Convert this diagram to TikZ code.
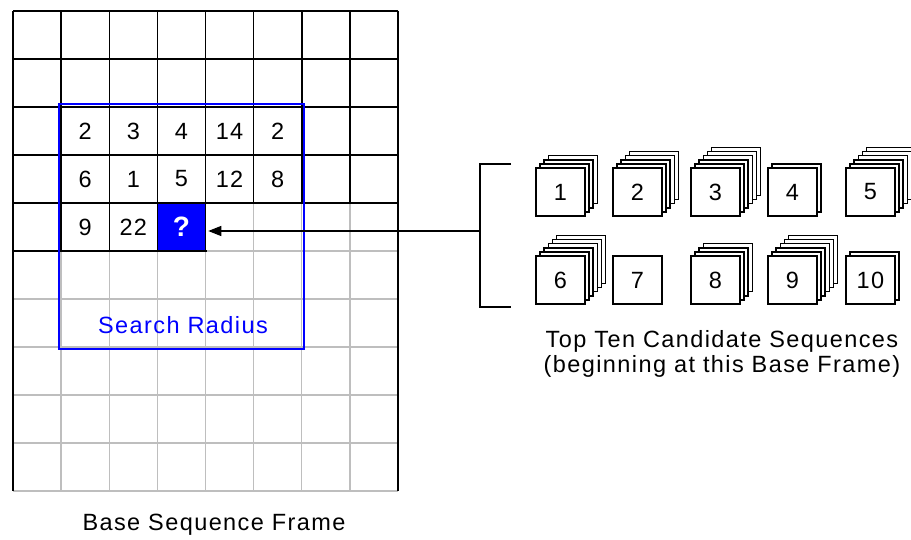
\documentclass[tikz,border=0pt]{standalone}
\usepackage{fontspec}
\setmainfont{Liberation Sans}[LetterSpace=6]
\usetikzlibrary{arrows.meta}
\definecolor{gridgray}{RGB}{190,190,190}
\definecolor{pureblue}{RGB}{0,0,255}
\def\sd{4.1}
\newcommand\candstack[5]{%
  \ifnum#4>0
    \foreach \k in {#4,...,1}{
      \draw[stackline, fill=white] ({#2+\k*\sd},{#3-\k*\sd}) rectangle ++(49,48);
    }
  \fi
  \node[candbox] (#1) at ({#2+24.5},{#3+24}) {#5};
}
\begin{document}
\begin{tikzpicture}[x=1pt,y=-1pt,
  gridline/.style={draw=gridgray, line width=1.4pt},
  blackline/.style={draw=black, line width=1.5pt},
  num/.style={font=\fontsize{23.5}{27}\selectfont, inner sep=0pt},
  qcell/.style={draw=black, line width=1.5pt, fill=pureblue, text=white,
    minimum width=48.125pt, minimum height=48pt, inner sep=0pt,
    font=\fontsize{28}{30}\selectfont\bfseries},
  radiusbox/.style={draw=pureblue, line width=2pt, minimum width=245pt,
    minimum height=245pt, inner sep=0pt},
  lbl/.style={font=\fontsize{23.5}{25}\selectfont, inner sep=0pt, align=center},
  stackline/.style={draw=black, line width=1.5pt},
  candbox/.style={draw=black, line width=1.5pt, fill=white, minimum width=49pt,
    minimum height=48pt, inner sep=0pt, font=\fontsize{23.5}{27}\selectfont},
  arrowline/.style={draw=black, line width=1.4pt, -{Triangle[length=13pt,width=10pt]}},
  bracketline/.style={draw=black, line width=1.5pt}
]
\useasboundingbox (0,0) rectangle (911,540);
\clip (0,0) rectangle (911,540);
% grid (light)
\foreach \i in {0,...,8} \draw[gridline] ({13+48.125*\i},11) -- ({13+48.125*\i},491);
\foreach \j in {0,...,10} \draw[gridline] (13,{11+48*\j}) -- (398,{11+48*\j});
% grid (visited, black)
\foreach \j in {0,...,4} \draw[blackline] (13,{11+48*\j}) -- (398,{11+48*\j});
\draw[blackline] (13,251) -- (206.5,251);
\foreach \i in {0,...,8} \draw[blackline] ({13+48.125*\i},11) -- ({13+48.125*\i},203);
\foreach \i in {0,...,4} \draw[blackline] ({13+48.125*\i},203) -- ({13+48.125*\i},251);
\draw[blackline] (13,11) -- (13,491);
\draw[blackline] (398,11) -- (398,491);
% numbers
\node[num] (n21) at (85.19,131) {2};
\node[num] (n22) at (133.31,131) {3};
\node[num] (n23) at (181.44,131) {4};
\node[num] (n24) at (229.56,131) {14};
\node[num] (n25) at (277.69,131) {2};
\node[num] (n31) at (85.19,179) {6};
\node[num] (n32) at (133.31,179) {1};
\node[num] (n33) at (181.44,179) {5};
\node[num] (n34) at (229.56,179) {12};
\node[num] (n35) at (277.69,179) {8};
\node[num] (n41) at (85.19,227) {9};
\node[num] (n42) at (133.31,227) {22};
\node[qcell] (q) at (181.44,227) {?};
% search radius
\node[radiusbox] (sr) at (181.5,226.5) {};
\node[lbl, text=pureblue] (srl) at (183,325) {Search Radius};
\node[lbl] (bsf) at (214,525) {Base Sequence Frame};
% bracket and arrow
\coordinate (bt) at (511,164);
\coordinate (btv) at (480,164);
\coordinate (bbv) at (480,307);
\coordinate (bb) at (511,307);
\coordinate (bm) at (480,231);
\draw[bracketline] (bt) -- (btv) -- (bbv) -- (bb);
\draw[arrowline, shorten >=2pt] (bm) -- (q.east |- bm);
% candidate stacks
\candstack{c1}{536}{168}{3}{1}
\candstack{c2}{613}{168}{4}{2}
\candstack{c3}{691}{168}{5}{3}
\candstack{c4}{768}{168}{1}{4}
\candstack{c5}{846}{168}{5}{5}
\candstack{c6}{536}{256}{5}{6}
\candstack{c7}{613}{256}{0}{7}
\candstack{c8}{691}{256}{3}{8}
\candstack{c9}{768}{256}{5}{9}
\candstack{c10}{846}{256}{1}{10}
\node[lbl] (tt) at (722,354) {Top Ten Candidate Sequences\\(beginning at this Base Frame)};
\end{tikzpicture}
\end{document}
